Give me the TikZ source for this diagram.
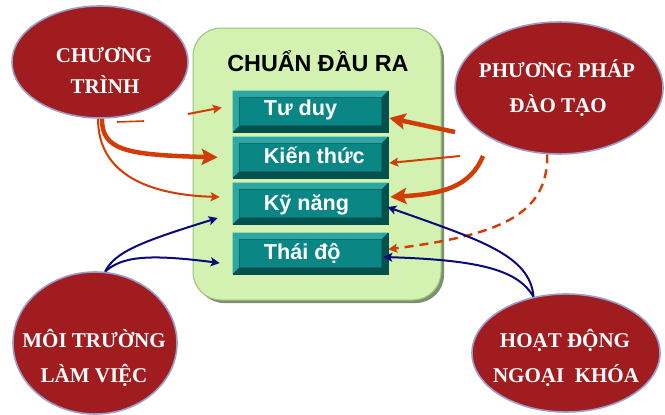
\documentclass[tikz,border=0pt]{standalone}
\usepackage{fontspec}
\setmainfont{Liberation Serif}
\newfontfamily\arialf{Liberation Sans}
\usetikzlibrary{shapes.geometric,arrows.meta}
\definecolor{ellred}{HTML}{A11C1F}
\definecolor{ellrim}{HTML}{9A9CCB}
\definecolor{arrred}{HTML}{D23C05}
\definecolor{navyc}{HTML}{0B0A78}
\definecolor{gfill}{HTML}{D3F1B1}
\definecolor{gline}{HTML}{9CC07E}
\definecolor{gshadow}{HTML}{7E8F70}
\definecolor{tealmid}{HTML}{0A8784}
\definecolor{teallt}{HTML}{2BA8A3}
\definecolor{tealdk}{HTML}{04504E}
\definecolor{tealln}{HTML}{066B68}
\pgfdeclarelayer{back}
\pgfdeclarelayer{arrows}
\pgfsetlayers{back,arrows,main}
\begin{document}
\begin{tikzpicture}[x=1pt,y=-1pt,
  ell/.style={ellipse, fill=ellred, draw=ellrim, line width=1.6pt, inner sep=0},
  etext/.style={text=white, font=\bfseries\fontsize{21}{25}\selectfont, anchor=base, inner sep=0},
  tbox/.style={minimum width=155pt, minimum height=41pt, inner sep=0, fill=tealmid, draw=tealdk, line width=0.6pt},
  ttext/.style={text=white, font=\arialf\bfseries\fontsize{21.6}{25}\selectfont, anchor=base west, inner sep=0},
  thinarr/.style={line width=2pt, -{Stealth[length=9pt,width=9pt,inset=2pt]}},
  thickarr/.style={line width=4.5pt, -{Stealth[length=16pt,width=16pt,inset=3pt]}},
]
\useasboundingbox (0,0) rectangle (665,415);

\begin{pgfonlayer}{back}
  \fill[gshadow, rounded corners=28pt] (196,31) rectangle (444,303);
  \node[draw=gline, fill=gfill, rounded corners=28pt, minimum width=248pt, minimum height=272pt, line width=1pt, inner sep=0] (gb) at (317,164) {};
  \node[tbox] (td)  at (310.5,111.5) {};
  \node[tbox] (kt)  at (310.5,157.3) {};
  \node[tbox] (kn)  at (310.5,203.5) {};
  \node[tbox] (tdo) at (310.5,253.3) {};
  \foreach \n in {td,kt,kn,tdo}{
    \fill[teallt] (\n.north west) -- (\n.north east) -- ([xshift=-7pt,yshift=-7pt]\n.north east)
      -- ([xshift=7pt,yshift=-7pt]\n.north west) -- ([xshift=7pt,yshift=7pt]\n.south west) -- (\n.south west) -- cycle;
    \fill[tealdk] (\n.south east) -- (\n.north east) -- ([xshift=-7pt,yshift=-7pt]\n.north east)
      -- ([xshift=-7pt,yshift=7pt]\n.south east) -- ([xshift=7pt,yshift=7pt]\n.south west) -- (\n.south west) -- cycle;
    \draw[tealln, line width=0.8pt] ([xshift=7pt,yshift=-7pt]\n.north west) rectangle ([xshift=-7pt,yshift=7pt]\n.south east);
  }
\end{pgfonlayer}

\node[font=\arialf\bfseries\fontsize{23.3}{27}\selectfont, anchor=base, inner sep=0] (title) at (318,71) {CHUẨN ĐẦU RA};

\node[ttext] (tdt)  at ([xshift=31pt,yshift=-3.5pt]td.west)  {Tư duy};
\node[ttext] (ktt)  at ([xshift=31pt,yshift=-6pt]kt.west)   {Kiến thức};
\node[ttext] (knt)  at ([xshift=31pt,yshift=-7pt]kn.west)   {Kỹ năng};
\node[ttext] (tdot) at ([xshift=31pt,yshift=-6pt]tdo.west)  {Thái độ};

% ellipses
\node[ell, minimum width=176pt, minimum height=112pt] (ct) at (100,62) {};
\node[ell, minimum width=208pt, minimum height=132pt] (pp) at (559,88) {};
\node[ell, minimum width=164pt, minimum height=142pt] (mt) at (95,343) {};
\node[ell, minimum width=188pt, minimum height=118pt] (hd) at (566,353) {};

\node[etext] (ct1) at (104,63) {CHƯƠNG};
\node[etext] (ct2) at (105,93) {TRÌNH};
\node[etext] (pp1) at (557,77) {PHƯƠNG PHÁP};
\node[etext] (pp2) at (558,112) {ĐÀO TẠO};
\node[etext] (mt1) at (94,347) {MÔI TRƯỜNG};
\node[etext] (mt2) at (94,382) {LÀM VIỆC};
\node[etext] (hd1) at (565,347) {HOẠT ĐỘNG};
\node[etext] (hd2) at (566,382) {NGOẠI\ \ KHÓA};

\coordinate (a1s) at (188,114);
\coordinate (f1) at (117,122);
\coordinate (f2) at (144,121);
\coordinate (b1s) at (455,132);
\coordinate (b2s) at (460,156);
\coordinate (b3s) at (483,156);

\begin{pgfonlayer}{arrows}
  % left side
  \draw[arrred, line width=1.6pt] (f1) -- (f2);
  \draw[arrred, thinarr] (a1s) -- ([xshift=-11pt,yshift=4pt]td.west);
  \draw[arrred, thickarr] (ct.-88) .. controls (102,150) and (125,155) .. ([xshift=-15pt]kt.west);
  \draw[arrred, thinarr] (ct.-92) .. controls (98,175) and (150,195) .. ([xshift=-13pt,yshift=6.5pt]kn.west);
  \draw[navyc, thinarr] (mt.82) .. controls (115,252) and (140,242) .. ([xshift=-15pt,yshift=-14.5pt]kn.west);
  \draw[navyc, thinarr] (mt.82) .. controls (122,256) and (150,254) .. ([xshift=-13pt,yshift=-9.7pt]tdo.west);
  % right side
  \draw[arrred, thickarr] (b1s) -- ([xshift=1pt,yshift=-6.5pt]td.east);
  \draw[arrred, thinarr] (b2s) -- ([xshift=1pt,yshift=-5.7pt]kt.east);
  \draw[arrred, thickarr] (b3s) .. controls (470,188) and (440,194) .. ([xshift=2pt,yshift=6.5pt]kn.east);
  \draw[arrred, thinarr, dash pattern=on 9pt off 6pt, line width=2.4pt] (pp.-100) .. controls (548,215) and (500,235) .. ([yshift=4pt]tdo.east);
  \draw[navyc, thinarr] (hd.120) .. controls (530,255) and (480,240) .. ([xshift=-1pt,yshift=-3.5pt]kn.east);
  \draw[navyc, thinarr] (hd.120) .. controls (518,270) and (480,260) .. ([xshift=-5pt,yshift=-3.7pt]tdo.east);
\end{pgfonlayer}
\end{tikzpicture}
\end{document}
